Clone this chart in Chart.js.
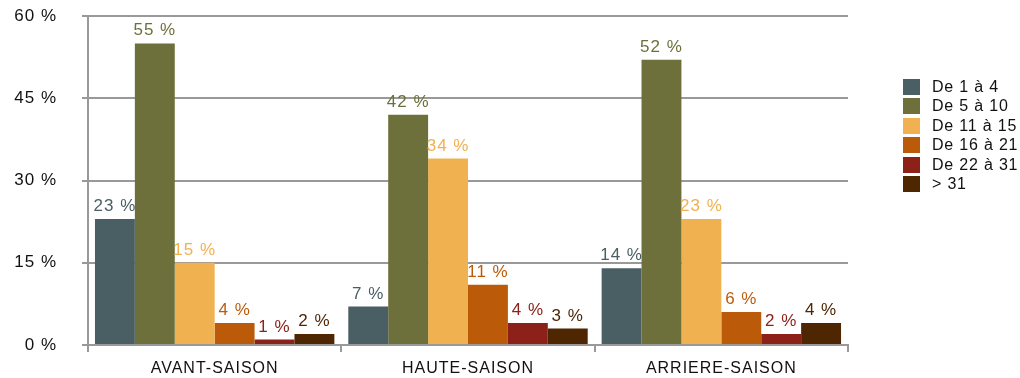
<!DOCTYPE html>
<html>
<head>
<meta charset="utf-8">
<script src="https://cdn.jsdelivr.net/npm/chart.js@4"></script>
<style>
  html, body { margin: 0; padding: 0; background: #fff; }
  #wrap { position: relative; width: 1020px; height: 378px; }
  #legend { position: absolute; left: 903px; top: 79px; font: 16px "Liberation Sans", Arial, Helvetica, sans-serif; letter-spacing: 0.8px; color: #111; }
  #legend div { height: 16px; margin-bottom: 3.4px; display: flex; align-items: center; white-space: nowrap; }
  #legend span { display: inline-block; width: 17px; height: 16px; margin-right: 12px; }
</style>
</head>
<body>
<div id="wrap">
  <canvas id="saisons" width="1020" height="378"></canvas>
  <div id="legend"></div>
</div>
<script>
const saisons = ["AVANT-SAISON", "HAUTE-SAISON", "ARRIERE-SAISON"];
const tranches = ["De 1 à 4", "De 5 à 10", "De 11 à 15", "De 16 à 21", "De 22 à 31", "> 31"];
const couleurs = ["#4a5f63", "#6d703a", "#f0b150", "#bb5b0a", "#8b2119", "#4e2602"];

// pourcentages par tranche, une valeur par saison
const de1a4 = [23, 7, 14];
const de5a10 = [55, 42, 52];
const de11a15 = [15, 34, 23];
const de16a21 = [4, 11, 6];
const de22a31 = [1, 4, 2];
const plus31 = [2, 3, 4];

const yTicks = [0, 15, 30, 45, 60];

const series = [de1a4, de5a10, de11a15, de16a21, de22a31, plus31];
const police = "'Liberation Sans', Arial, Helvetica, sans-serif";

// texte un peu plus espacé sur tout le canvas
const espacement = {
  id: "espacement",
  beforeDraw(chart) { chart.ctx.letterSpacing = "1px"; }
};

// valeur en % au-dessus de chaque barre
const etiquettes = {
  id: "etiquettes",
  afterDatasetsDraw(chart) {
    const c = chart.ctx;
    c.save();
    c.font = "17px " + police;
    c.textAlign = "center";
    c.textBaseline = "alphabetic";
    chart.data.datasets.forEach((ds, i) => {
      chart.getDatasetMeta(i).data.forEach((bar, j) => {
        c.fillStyle = ds.backgroundColor;
        c.fillText(ds.data[j] + " %", bar.x, bar.y - 8);
      });
    });
    c.restore();
  }
};

const ctx = document.getElementById("saisons");

new Chart(ctx, {
  type: "bar",
  data: {
    labels: saisons,
    datasets: tranches.map((t, i) => ({
      label: t,
      data: series[i],
      backgroundColor: couleurs[i],
      borderWidth: 0,
      categoryPercentage: 0.945,
      barPercentage: 1
    }))
  },
  options: {
    responsive: false,
    animation: false,
    layout: { padding: { left: 14, right: 172, top: 16, bottom: 0 } },
    plugins: {
      legend: { display: false },
      tooltip: { enabled: false }
    },
    scales: {
      x: {
        afterFit(axis) {
          axis.paddingLeft = 0;
          axis.paddingRight = 0;
          axis.height = 33;
        },
        grid: { drawOnChartArea: false, color: "#999", lineWidth: 2, tickLength: 7, offset: true },
        border: { color: "#999", width: 2 },
        ticks: { color: "#111", font: { family: police, size: 16 }, padding: 7, maxRotation: 0 }
      },
      y: {
        min: 0,
        max: 60,
        afterBuildTicks(axis) { axis.ticks = yTicks.map(v => ({ value: v })); },
        afterFit(axis) {
          axis.width = 74;
          axis.paddingTop = 0;
          axis.paddingBottom = 0;
        },
        grid: { color: "#999", lineWidth: 2, tickLength: 6 },
        border: { color: "#999", width: 2 },
        ticks: {
          color: "#111",
          font: { family: police, size: 17 },
          padding: 25,
          callback: v => v + " %"
        }
      }
    }
  },
  plugins: [espacement, etiquettes]
});

// légende à droite
const legende = document.getElementById("legend");
tranches.forEach((t, i) => {
  const ligne = document.createElement("div");
  const carre = document.createElement("span");
  carre.style.background = couleurs[i];
  ligne.appendChild(carre);
  ligne.appendChild(document.createTextNode(t));
  legende.appendChild(ligne);
});
</script>
</body>
</html>
